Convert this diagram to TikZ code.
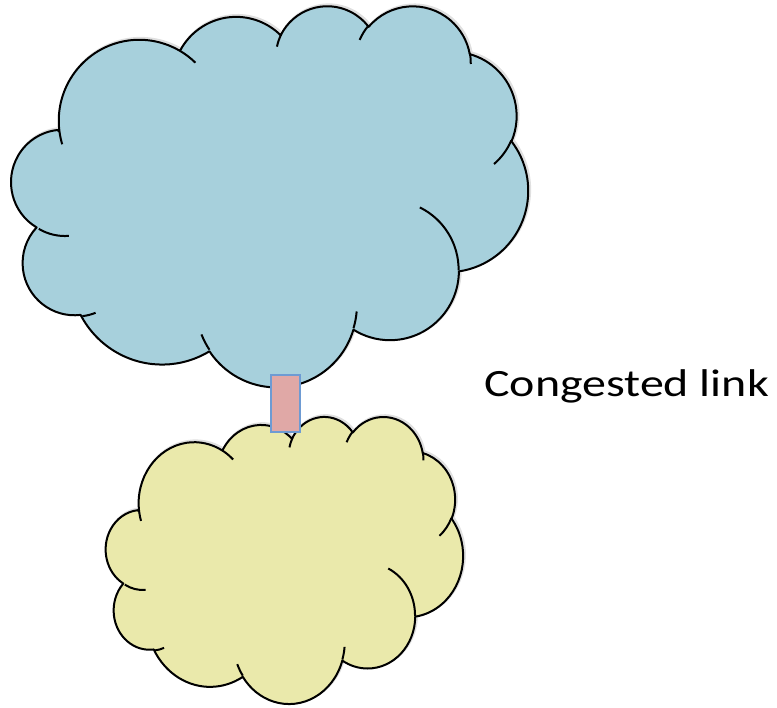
\documentclass[tikz,border=0pt]{standalone}
\usepackage{fontspec}
\usepackage{graphicx}
\newfontfamily\labelfont{Carlito}
\definecolor{skyfill}{HTML}{A7D0DC}
\definecolor{sandfill}{HTML}{EAE9AB}
\definecolor{linkfill}{HTML}{E0A8A6}
\definecolor{linkedge}{HTML}{6E9BD3}
\tikzset{
  % convert a "visual" ellipse angle into the parametric angle used by arc
  declare function={visang(\a,\rx,\ry)=atan2(\rx*sin(\a),\ry*cos(\a));},
  cloudline/.style={draw=black, line width=1.5pt, line join=round},
  cloudshade/.style={draw=black, line width=2.2pt, draw opacity=0.12, fill=none},
  linkbox/.style={draw=linkedge, fill=linkfill, line width=1.6pt,
    minimum width=21.5pt, minimum height=42.5pt, inner sep=0pt},
  caption/.style={font=\labelfont\fontsize{29}{34}\selectfont, inner sep=0pt, anchor=base west}
}
% elliptic arc continuing from the current point: radii, start angle, sweep
\newcommand\carc[4]{arc[x radius=#1pt, y radius=#2pt,
  start angle={visang(#3,#1,#2)},
  delta angle={mod(visang(#3+#4,#1,#2)-visang(#3,#1,#2)+720,360)}]}
% cloud outline in a 432 x 432 box, y pointing down
\newcommand\cloudoutline{(39.00pt,143.70pt)
  \carc{67.53}{91.90}{-190.48748}{123.78053}
  \carc{53.33}{72.67}{-144.10238}{89.94523}
  \carc{43.65}{59.45}{-145.80792}{99.72302}
  \carc{48.57}{65.95}{-130.98607}{117.24173}
  \carc{53.33}{72.73}{-78.70888}{109.02692}
  \carc{67.75}{92.20}{-46.26725}{130.269}
  \carc{57.85}{78.67}{0.62502}{114.03333}
  \carc{67.52}{92.15}{22.4516}{115.17255}
  \carc{77.20}{105.43}{66.24263}{78.03695}
  \carc{43.60}{59.18}{-274.94208}{146.73557}
  \carc{43.45}{59.45}{-246.8285}{152.51885} -- cycle}
% inner puff lines
\newcommand\cloudpuffs{
  (46.93pt,261.77pt) \carc{43.45}{59.45}{86.742}{26.4295}
  (69.28pt,348.99pt) \carc{43.60}{59.18}{73.61047}{11.44747}
  (164.78pt,390.90pt) \carc{67.52}{92.15}{137.62415}{14.0811}
  (288.27pt,347.51pt) \carc{67.52}{92.15}{6.45327}{15.99835}
  (341.29pt,229.54pt) \carc{57.85}{78.67}{-70.29235}{70.91737}
  (417.98pt,153.54pt) \carc{53.33}{72.73}{30.31803}{27.7515}
  (383.24pt,54.26pt) \carc{48.57}{65.95}{-13.74433}{14.8589}
  (290.78pt,39.52pt) \carc{48.57}{65.95}{-149.18145}{18.19537}
  (221.41pt,47.20pt) \carc{43.65}{59.45}{-163.49427}{17.68635}
  (140.00pt,51.92pt) \carc{67.53}{91.90}{-66.70695}{12.31935}
  (41.27pt,157.89pt) \carc{67.53}{91.90}{157.65435}{11.85817}}
\begin{document}
\begin{tikzpicture}[x=0.75pt, y=-0.75pt]
  \useasboundingbox (0,0) rectangle (777,707);
  % upper network cloud: box 515 x 381 px at (13,5)
  \begin{scope}[shift={(13,5)}, xscale=515*0.75/432, yscale=-381*0.75/432]
    \path[cloudshade, xshift=1.2pt, yshift=-1.6pt] \cloudoutline;
    \path[cloudline, fill=skyfill] \cloudoutline;
    \path[cloudline] \cloudpuffs;
  \end{scope}
  % lower network cloud: box 356 x 287 px at (107,416)
  \begin{scope}[shift={(107,416)}, xscale=356*0.75/432, yscale=-287*0.75/432]
    \path[cloudshade, xshift=1.6pt, yshift=-2.0pt] \cloudoutline;
    \path[cloudline, fill=sandfill] \cloudoutline;
    \path[cloudline] \cloudpuffs;
  \end{scope}
  % the link between the two clouds
  \node[linkbox] (link) at (285.5,403.5) {};
  \node[caption] (label) at (484,396.5) {\scalebox{1.24}[1]{Congested link}};
\end{tikzpicture}
\end{document}
